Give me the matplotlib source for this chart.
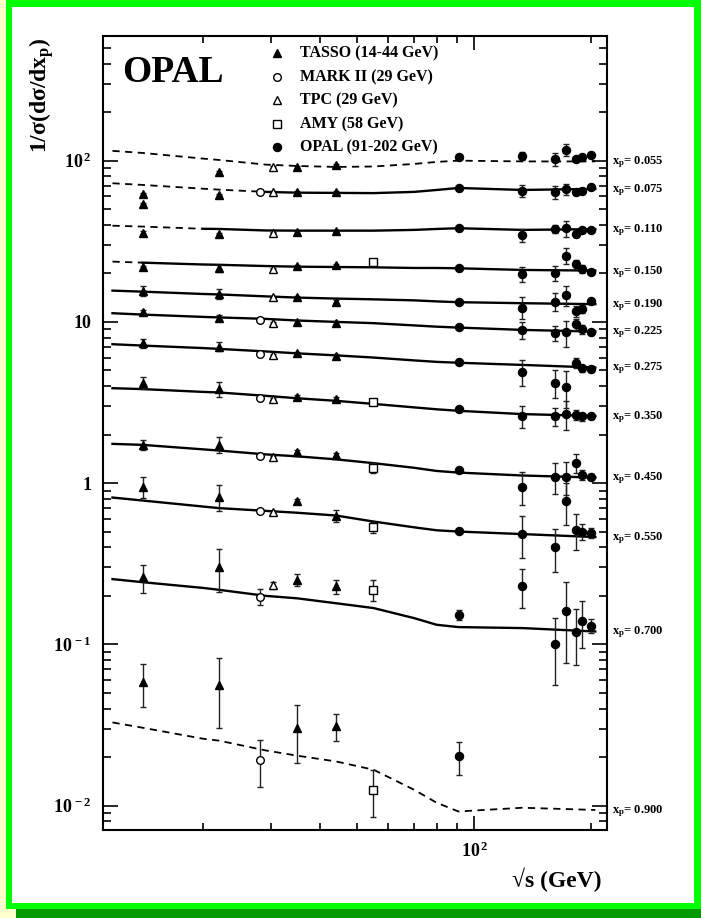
import numpy as np
import matplotlib
matplotlib.use("Agg")
import matplotlib.pyplot as plt
import matplotlib.transforms as mtransforms
from matplotlib.patches import Rectangle
from matplotlib.ticker import FixedLocator, LogLocator, NullFormatter, FuncFormatter

plt.rcParams['font.family'] = ['Liberation Serif', 'DejaVu Serif']
plt.rcParams['font.weight'] = 'bold'
plt.rcParams['mathtext.fontset'] = 'custom'
plt.rcParams['mathtext.rm'] = 'Liberation Serif:bold'
plt.rcParams['mathtext.bf'] = 'Liberation Serif:bold'
plt.rcParams['mathtext.it'] = 'Liberation Serif:bold:italic'

# x_p bins, one row per bin (top to bottom)
xp_labels = ['0.055', '0.075', '0.110', '0.150', '0.190', '0.225',
             '0.275', '0.350', '0.450', '0.550', '0.700', '0.900']

# model curves evaluated at these energies (GeV)
curve_e = [11.7, 14, 20, 22, 29, 35, 44, 55, 70, 80, 91, 133, 205]
curve_vals = [
    [115, 111.6, 103, 101, 94.5, 92.7, 91.4, 92.0, 95.4, 98.2, 100, 98.9, 98.9],
    [72.4, 70.7, 67.0, 66.1, 64.0, 63.3, 63.1, 62.9, 64.0, 65.8, 67.7, 65.8, 66.8],
    [39.5, 39.0, 37.8, 37.7, 36.9, 36.8, 36.8, 36.8, 37.2, 37.7, 38.1, 37.2, 37.6],
    [23.65, 23.3, 22.7, 22.6, 22.2, 22.0, 21.9, 21.8, 21.6, 21.6, 21.5, 21.0, 20.8],
    [15.63, 15.4, 14.9, 14.8, 14.4, 14.15, 13.95, 13.8, 13.6, 13.4, 13.25, 13.06, 12.88],
    [11.32, 11.1, 10.74, 10.66, 10.44, 10.2, 10.0, 9.82, 9.51, 9.34, 9.22, 8.92, 8.71],
    [7.27, 7.13, 6.88, 6.80, 6.56, 6.38, 6.20, 6.01, 5.77, 5.65, 5.58, 5.41, 5.21],
    [3.88, 3.83, 3.68, 3.65, 3.48, 3.36, 3.24, 3.10, 2.95, 2.87, 2.81, 2.68, 2.61],
    [1.752, 1.727, 1.62, 1.593, 1.508, 1.466, 1.405, 1.33, 1.245, 1.19, 1.163, 1.115, 1.083],
    [0.814, 0.780, 0.716, 0.700, 0.673, 0.655, 0.630, 0.578, 0.532, 0.510, 0.501, 0.483, 0.463],
    [0.254, 0.243, 0.224, 0.218, 0.200, 0.193, 0.180, 0.168, 0.1455, 0.1323, 0.128, 0.1262, 0.1202],
    [0.0328, 0.0304, 0.0260, 0.0253, 0.0220, 0.0204, 0.0188, 0.0167, 0.01254, 0.01042, 0.0092, 0.0097, 0.0094],
]
# curve drawn dashed below this energy
dashed_below = [205, 29, 20, 14, 0, 0, 0, 0, 0, 0, 0, 205]

tasso_e = [14, 22, 35, 44]
tasso_vals = [
    [54.0, 84.7, 91.8, 94.0],
    [62.0, 61.3, 63.7, 64.2],
    [35.8, 35.1, 36.0, 36.6],
    [21.8, 21.5, 22.2, 22.6],
    [15.5, 14.9, 14.2, 13.36],
    [11.48, 10.6, 10.04, 9.9],
    [7.38, 7.03, 6.40, 6.15],
    [4.17, 3.84, 3.44, 3.33],
    [1.727, 1.727, 1.57, 1.497],
    [0.944, 0.826, 0.78, 0.627],
    [0.260, 0.302, 0.2515, 0.2286],
    [0.0581, 0.0562, 0.0303, 0.031],
]
tasso_errs = [
    [1.0, 1.5, 1.5, 1.5],
    [1.0, 1.0, 1.0, 1.0],
    [0.6, 0.6, 0.6, 0.6],
    [0.5, 1.0, 0.4, 0.4],
    [1.1, 1.0, 0.3, 0.3],
    [0.3, 0.4, 0.2, 0.2],
    [0.5, 0.45, 0.15, 0.15],
    [0.35, 0.40, 0.08, 0.08],
    [0.13, 0.20, 0.04, 0.04],
    [0.14, 0.15, 0.02, 0.055],
    [0.052, 0.09, 0.02, 0.023],
    [0.017, 0.026, 0.012, 0.006],
]

nan = np.nan
markii_e = 28.0
markii_vals = [nan, 64.2, nan, nan, nan, 10.3, 6.31, 3.39, 1.483, 0.667, 0.198, 0.01926]
markii_errs = [nan, 0.8, nan, nan, nan, 0.15, 0.08, 0.04, 0.02, 0.01, 0.022, 0.0062]

tpc_e = 30.3
tpc_vals = [91.0, 63.7, 35.8, 21.2, 14.35, 9.82, 6.24, 3.33, 1.462, 0.664, 0.232, nan]
tpc_errs = [1.0, 0.8, 0.4, 0.3, 0.2, 0.12, 0.08, 0.04, 0.02, 0.01, 0.013, nan]

amy_e = 55.0
amy_vals = [nan, nan, nan, 23.4, nan, nan, nan, 3.18, 1.238, 0.534, 0.218, 0.01254]
amy_errs = [nan, nan, nan, 0.4, nan, nan, nan, 0.06, 0.09, 0.04, 0.031, 0.004]

opal_e = [91.2, 133, 161, 172, 183, 189, 200]
opal_vals = [
    [106, 107, 102, 116.5, 102.5, 106, 108.5],
    [68.0, 65.2, 63.7, 66.5, 63.7, 65.2, 68.7],
    [38.1, 34.6, 37.6, 38.1, 35.1, 37.2, 37.2],
    [21.6, 19.8, 20.0, 25.8, 22.8, 21.2, 20.5],
    [13.36, 12.27, 13.36, 14.6, 11.7, 12.0, 13.55],
    [9.35, 8.92, 8.51, 8.6, 9.68, 9.01, 8.6],
    [5.67, 4.92, 4.20, 3.94, 5.59, 5.16, 5.09],
    [2.88, 2.59, 2.59, 2.68, 2.66, 2.59, 2.61],
    [1.209, 0.952, 1.099, 1.099, 1.342, 1.125, 1.089],
    [0.506, 0.483, 0.401, 0.777, 0.514, 0.501, 0.490],
    [0.1526, 0.231, 0.1009, 0.160, 0.120, 0.1406, 0.1304],
    [0.0202, nan, nan, nan, nan, nan, nan],
]
opal_errs = [
    [1.0, 6.4, 9.0, 10.0, 3.0, 2.0, 1.5],
    [0.7, 5.9, 5.7, 5.0, 2.8, 2.0, 1.0],
    [0.4, 3.2, 2.2, 4.3, 1.5, 1.0, 0.8],
    [0.2, 2.0, 2.1, 2.8, 1.4, 1.2, 0.6],
    [0.15, 1.9, 1.75, 2.0, 0.9, 0.7, 0.4],
    [0.1, 1.1, 0.95, 1.6, 0.8, 0.6, 0.3],
    [0.06, 0.92, 0.84, 1.0, 0.4, 0.25, 0.2],
    [0.03, 0.40, 0.32, 0.54, 0.2, 0.15, 0.1],
    [0.015, 0.22, 0.24, 0.25, 0.18, 0.08, 0.05],
    [0.008, 0.14, 0.12, 0.23, 0.13, 0.06, 0.035],
    [0.011, 0.062, 0.045, 0.083, 0.045, 0.045, 0.013],
    [0.0047, nan, nan, nan, nan, nan, nan],
]

legend_labels = ['TASSO (14-44 GeV)', 'MARK II (29 GeV)', 'TPC (29 GeV)',
                 'AMY (58 GeV)', 'OPAL (91-202 GeV)']

W, H = 701, 918
fig = plt.figure(figsize=(W / 100, H / 100), dpi=100)
fig.patch.set_facecolor('#ffffcc')

# green picture frame with a darker drop shadow along the bottom
fig.add_artist(Rectangle((16 / W, 0), 1, 1 - 8 / H, transform=fig.transFigure,
                         facecolor='#009900', edgecolor='none', zorder=-3))
fig.add_artist(Rectangle((6 / W, 9 / H), 1, 1, transform=fig.transFigure,
                         facecolor='#00ff00', edgecolor='none', zorder=-2))
fig.add_artist(Rectangle((12 / W, 15 / H), (694 - 12) / W, (903 - 7) / H,
                         transform=fig.transFigure,
                         facecolor='white', edgecolor='none', zorder=-1))

ax = fig.add_axes([103 / W, 1 - 830 / H, 504 / W, 794 / H])
ax.set_facecolor('none')
ax.set_xscale('log')
ax.set_yscale('log')
ax.set_xlim(11.06, 219.7)
ax.set_ylim(0.00706, 593)

mk = dict(linestyle='none', color='k', zorder=4)
eb = dict(fmt='none', ecolor='#222222', elinewidth=1.0, capsize=2.5, capthick=1.0, zorder=3)

ce = np.array(curve_e)
tr = mtransforms.blended_transform_factory(ax.transAxes, ax.transData)
for i in range(len(xp_labels)):
    cv = np.array(curve_vals[i])
    lo = ce <= dashed_below[i]
    hi = ce >= dashed_below[i]
    if lo.sum() > 1:
        ax.plot(ce[lo], cv[lo], color='k', lw=1.3, ls=(0, (4, 3)), zorder=2)
    if hi.sum() > 1:
        ax.plot(ce[hi], cv[hi], color='k', lw=1.7, zorder=2)

    ax.errorbar(tasso_e, tasso_vals[i], yerr=tasso_errs[i], **eb)
    ax.plot(tasso_e, tasso_vals[i], marker='^', ms=5.5, **mk)

    if not np.isnan(markii_vals[i]):
        ax.errorbar([markii_e], [markii_vals[i]], yerr=[markii_errs[i]], **eb)
        ax.plot([markii_e], [markii_vals[i]], marker='o', ms=5.5, mfc='white', mew=1.0, **mk)
    if not np.isnan(tpc_vals[i]):
        ax.errorbar([tpc_e], [tpc_vals[i]], yerr=[tpc_errs[i]], **eb)
        ax.plot([tpc_e], [tpc_vals[i]], marker='^', ms=6, mfc='white', mew=1.0, **mk)
    if not np.isnan(amy_vals[i]):
        ax.errorbar([amy_e], [amy_vals[i]], yerr=[amy_errs[i]], **eb)
        ax.plot([amy_e], [amy_vals[i]], marker='s', ms=5.5, mfc='white', mew=1.0, **mk)

    ov = np.array(opal_vals[i])
    oe = np.array(opal_errs[i])
    ok = ~np.isnan(ov)
    ax.errorbar(np.array(opal_e)[ok], ov[ok], yerr=oe[ok], **eb)
    ax.plot(np.array(opal_e)[ok], ov[ok], marker='o', ms=5.8, **mk)

    # bin label at the right end of the curve
    ax.text(1.01, cv[-1] * 0.985, 'x$_{\\mathbf{p}}$= ' + xp_labels[i], transform=tr,
            fontsize=9, va='center', ha='left', clip_on=False)

# axes cosmetics
for s in ax.spines.values():
    s.set_linewidth(1.5)
ax.xaxis.set_major_locator(FixedLocator([100]))
ax.xaxis.set_minor_locator(FixedLocator([20, 30, 40, 50, 60, 70, 80, 90, 200]))
ax.xaxis.set_minor_formatter(NullFormatter())
ax.yaxis.set_major_locator(FixedLocator([0.01, 0.1, 1, 10, 100]))
ax.yaxis.set_minor_locator(LogLocator(base=10, subs=np.arange(2, 10)))
ax.yaxis.set_minor_formatter(NullFormatter())


def pow_fmt(v, pos):
    e = int(round(np.log10(v)))
    if e == 0:
        return '1'
    if e == 1:
        return '10'
    return '$10^{\\,%d}$' % e


ax.xaxis.set_major_formatter(FuncFormatter(pow_fmt))
ax.yaxis.set_major_formatter(FuncFormatter(pow_fmt))
ax.tick_params(which='both', direction='in', top=True, right=True, width=1.2,
               labelsize=13, colors='k')
ax.tick_params(axis='y', which='major', length=11, pad=8)
ax.tick_params(axis='y', which='minor', length=6)
ax.tick_params(axis='x', which='major', length=10, pad=8)
ax.tick_params(axis='x', which='minor', length=5)

fig.text(42 / W, 1 - 38 / H, '1/σ(dσ/dx$_{\\mathbf{p}}$)', rotation=90,
         ha='center', va='top', fontsize=17)
fig.text(602 / W, 1 - 880 / H, '√s (GeV)', ha='right', va='center', fontsize=17)
fig.text(122 / W, 1 - 72 / H, 'OPAL', ha='left', va='center', fontsize=27)

# legend
leg_y = [53, 77, 100, 124, 147]
leg_style = [dict(marker='^', mfc='k', ms=5.5), dict(marker='o', mfc='white', ms=5.5),
             dict(marker='^', mfc='white', ms=6), dict(marker='s', mfc='white', ms=5.5),
             dict(marker='o', mfc='k', ms=5.8)]
for yy, lab, st in zip(leg_y, legend_labels, leg_style):
    fig.add_artist(plt.Line2D([277 / W], [1 - yy / H], transform=fig.transFigure,
                              color='k', mec='k', mew=1.0, linestyle='none', **st))
    fig.text(300 / W, 1 - yy / H, lab, ha='left', va='center', fontsize=11.5)

fig.savefig('out.png', dpi=100, facecolor=fig.get_facecolor())
